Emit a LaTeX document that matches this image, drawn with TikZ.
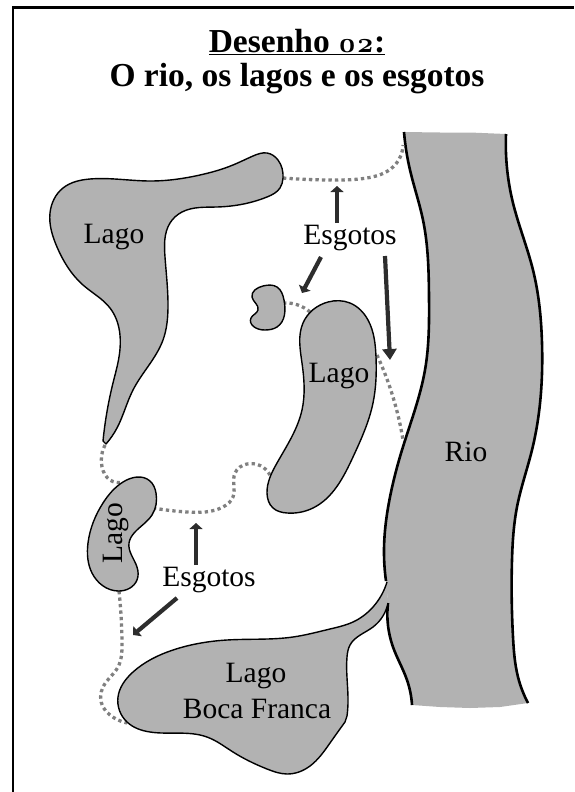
\documentclass[tikz,border=0pt]{standalone}
\usepackage{fontspec}
\setmainfont{Liberation Serif}
\newfontfamily\numfont[Numbers=OldStyle,Scale=0.85]{Latin Modern Roman}
\usepackage{tikz}
\usetikzlibrary{positioning,arrows.meta,calc,hobby}
\definecolor{agua}{RGB}{178,178,178}
\definecolor{esgoto}{RGB}{128,128,128}
\definecolor{seta}{RGB}{45,45,45}

\begin{document}
\begin{tikzpicture}[x=1pt,y=-1pt,use Hobby shortcut,
    lago/.style={draw=black,fill=agua,line width=1.4pt,line join=round},
    margem/.style={draw=black,line width=2.6pt},
    esgotoline/.style={draw=esgoto,line width=3.3pt,dash pattern=on 3.3pt off 3.2pt},
    setabig/.style={draw=seta,line width=4.2pt,-{Triangle[length=11pt,width=14pt]}},
    setasmall/.style={draw=seta,line width=4.2pt,-{Triangle[length=6pt,width=13pt]}},
    rotulo/.style={font=\fontsize{29.5}{32}\selectfont,inner sep=0pt,align=center}]
    \useasboundingbox (0,0) rectangle (574,792);
    \draw[black,line width=2.7pt] (13,792) -- (13,7.5) -- (574,7.5);
    % rio
    \fill[agua] (404,132) .. (410,170) .. (423,220) .. (429,297) .. (425,370) .. (402,450) .. (390,497) .. (384,550) .. (386,581) .. (388,603) .. (393,647) .. (407,680) .. (412,705)
      -- (440,707) -- (470,708) -- (500,707) -- (528,703) .. (518,677) .. (513,637) .. (512,560) .. (517,507) .. (532,450) .. (542,343) .. (533,270) .. (513,203) .. (506,134)
      -- (470,132.5) -- (440,132.5) -- cycle;
    \draw[margem] (404,132) .. (410,170) .. (423,220) .. (429,297) .. (425,370) .. (402,450) .. (390,497) .. (384,550) .. (386,581);
    \draw[margem] (388,603) .. (393,647) .. (407,680) .. (412,705);
    \draw[margem] (506,134) .. (513,203) .. (533,270) .. (542,343) .. (532,450) .. (517,507) .. (512,560) .. (513,637) .. (518,677) .. (528,703);
    % esgotos
    \draw[esgotoline] (283,178) .. (337,180) .. (367,178) .. (393,167) .. (403,145);
    \draw[esgotoline] (283,303) .. (298,305) .. (310,312);
    \draw[esgotoline] (377,355) .. (393,397) .. (403,440);
    \draw[esgotoline] (105,445) .. (102,467) .. (110,480) .. (123,482);
    \draw[esgotoline] (153,508) .. (187,512) .. (223,507) .. (233,497) .. (235,473) .. (247,464) .. (270,475);
    \draw[esgotoline] (119,591) .. (122,643) .. (118,667) .. (103,687) .. (103,707) .. (110,715) .. (127,723);
    % lagos
    \draw[lago] (106,444) .. (117,428) .. (133,390) .. (163,340) .. (168,307) .. (165,257) .. (170,223) .. (182,212) .. (217,207) .. (267,197) .. (280,188) .. (283,178) .. (278,160) .. (267,153) .. (253,156) .. (233,165) .. (200,175) .. (150,181) .. (90,179) .. (63,188) .. (50,213) .. (57,247) .. (83,285) .. (110,308) .. (119,357) .. (113,383) .. (103,441) -- cycle;
    \draw[lago,closed=true] (252,297) .. (263,286) .. (277,287) .. (284,300) .. (277,327) .. (265,330) .. (251,318) .. (258,310);
    \draw[lago,closed=true] (328,302) .. (350,303) .. (368,320) .. (376,357) .. (373,403) .. (353,457) .. (313,508) .. (287,513) .. (273,508) .. (267,493) .. (277,463) .. (302,410) .. (302,363) .. (303,323);
    \draw[lago,closed=true] (150,481) .. (123,482) .. (103,503) .. (88,543) .. (92,573) .. (118,591) .. (137,580) .. (137,567) .. (129,543) .. (135,532) .. (152,515) .. (156,493);
    \draw[lago] (387,582) .. (373,607) .. (353,622) .. (330,629) .. (293,637) .. (227,640) .. (173,650) .. (133,672) .. (118,697) .. (127,722) .. (150,732) .. (207,737) .. (233,752) .. (267,769) .. (287,774) .. (310,766) .. (330,743) .. (345,722) -- (347,716) .. (348,703) .. (347,657) .. (350,645) .. (373,627) .. (388,603);
    % setas
    \coordinate (fimA) at (337,186);
    \coordinate (iniA) at (337,223);
    \coordinate (iniB) at (321,257);
    \coordinate (fimB) at (302,293);
    \coordinate (iniC) at (385,256);
    \coordinate (fimC) at (390,360);
    \coordinate (iniD) at (196,565);
    \coordinate (fimD) at (196,523);
    \coordinate (iniE) at (177,598);
    \coordinate (fimE) at (133,635);
    \draw[setasmall] (iniA) -- (fimA);
    \draw[setasmall] (iniB) -- (fimB);
    \draw[setabig] (iniC) -- (fimC);
    \draw[setasmall] (iniD) -- (fimD);
    \draw[setasmall] (iniE) -- (fimE);
    % textos
    \node[font=\fontsize{33.5}{36}\selectfont\bfseries,inner sep=0pt] (tit) at (297,42) {\underline{Desenho {\numfont 02}:}};
    \node[font=\fontsize{33.5}{36}\selectfont\bfseries,inner sep=0pt] (sub) at (297,79) {O rio, os lagos e os esgotos};
    \node[rotulo] (lagoA) at (114,237) {Lago};
    \node[rotulo] (lagoB) at (339,376) {Lago};
    \node[rotulo,rotate=90] (lagoC) at (116,533) {Lago};
    \node[rotulo] (lagoD) at (256,676) {Lago};
    \node[rotulo] (boca) at (257,709) {Boca Franca};
    \node[rotulo] (rio) at (466,452) {Rio};
    \node[rotulo] (esgA) at (350,238) {Esgotos};
    \node[rotulo] (esgB) at (209,580) {Esgotos};
  \end{tikzpicture}
\end{document}
